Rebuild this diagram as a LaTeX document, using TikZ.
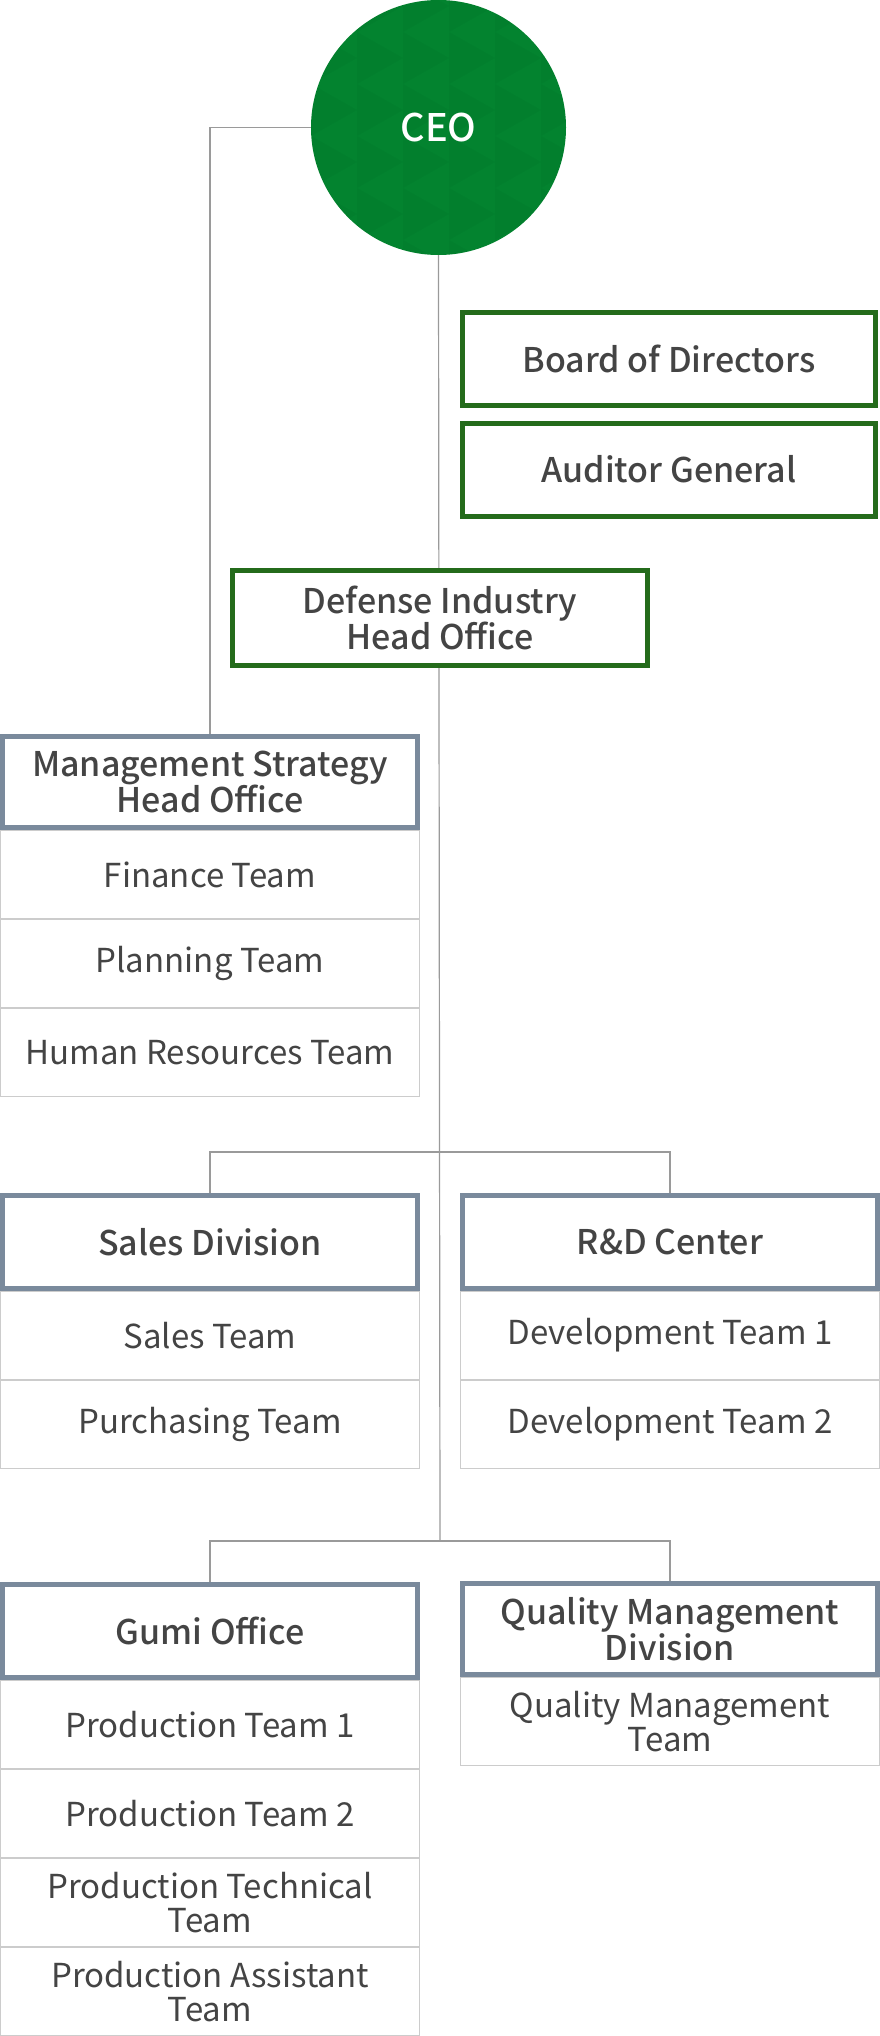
\documentclass[tikz,border=0pt]{standalone}
\usepackage{fontspec}
\setmainfont{Noto Sans CJK KR}
\newfontfamily\medfont{Noto Sans CJK KR Medium}
\usetikzlibrary{positioning}
\definecolor{ceogreen}{HTML}{03832F}
\definecolor{boardgreen}{HTML}{246B1B}
\definecolor{slate}{HTML}{7A8A9C}
\definecolor{rowline}{HTML}{CCCCCC}
\definecolor{wire}{HTML}{9A9A9A}
\definecolor{ink}{HTML}{444444}
\tikzset{
  ceonode/.style={circle,minimum size=255pt,inner sep=0pt,text=white,
                  font=\medfont\fontsize{38}{38}\selectfont},
  greenbox/.style={draw=boardgreen,line width=5pt,fill=white,align=center,
                   text=ink,inner sep=0pt,minimum width=413pt,minimum height=93pt,
                   font=\medfont\fontsize{34}{34}\selectfont},
  headbox/.style={draw=slate,line width=5pt,fill=white,align=center,
                  text=ink,inner sep=0pt,minimum width=415pt,minimum height=93pt,
                  font=\medfont\fontsize{34}{34}\selectfont},
  teamrow/.style={draw=rowline,line width=1pt,fill=white,align=center,
                  text=ink,inner sep=0pt,minimum width=419pt,minimum height=88pt,
                  font=\fontsize{33}{34}\selectfont},
  wire/.style={draw=wire,line width=1.2pt}
}

\begin{document}
\begin{tikzpicture}[x=1pt,y=-1pt,line join=miter]
  \useasboundingbox (0,0) rectangle (880,2036);
  \fill[white] (0,0) rectangle (880,2036);

  % CEO circle with faint triangle texture
  \fill[ceogreen] (438.5,127.5) circle (127.5);
  \begin{scope}
    \clip (438.5,127.5) circle (127.5);
    \foreach \i in {0,...,5}{
      \foreach \j in {0,...,5}{
        \fill[black,opacity=0.025]
          ({311+46*\i},{-20+52*\j}) -- ({357+46*\i},{6+52*\j}) -- ({311+46*\i},{32+52*\j}) -- cycle;
      }
    }
  \end{scope}
  \node[ceonode] (ceo) at (438.5,127.5) {CEO};

  % main spine
  \coordinate (branchA) at (440,1152);
  \coordinate (branchB) at (440,1541);
  \draw[wire] (ceo.south) -- (branchB);

  % board / auditor / defense
  \node[greenbox] (board) at (669,359) {Board of Directors};
  \node[greenbox] (auditor) at (669,469.5) {Auditor General};
  \node[greenbox,minimum width=415pt,minimum height=95pt] (defense) at (440,618)
    {Defense Industry\\Head Office};

  % management strategy
  \node[headbox,minimum height=91pt] (mgmt) at (210,782)
    {Management Strategy\\Head Office};
  \node[teamrow,below=0pt of mgmt] (fin) {Finance Team};
  \node[teamrow,below=0pt of fin] (plan) {Planning Team};
  \node[teamrow,below=0pt of plan] (hr) {Human Resources Team};
  \draw[wire] (ceo.west) -| (mgmt.north);

  % sales and R&D
  \node[headbox] (sales) at (210,1242) {Sales Division};
  \node[teamrow,below=0pt of sales] (salesteam) {Sales Team};
  \node[teamrow,below=0pt of salesteam] (purch) {Purchasing Team};
  \node[headbox] (rnd) at (670,1242) {R\&D Center};
  \node[teamrow,below=0pt of rnd] (dev1) {Development Team 1};
  \node[teamrow,below=0pt of dev1] (dev2) {Development Team 2};
  \draw[wire] (sales.north) |- (branchA) -| (rnd.north);

  % gumi and quality
  \node[headbox] (gumi) at (210,1631) {Gumi Office};
  \node[teamrow,below=0pt of gumi] (prod1) {Production Team 1};
  \node[teamrow,below=0pt of prod1] (prod2) {Production Team 2};
  \node[teamrow,below=0pt of prod2] (prodtech) {Production Technical\\Team};
  \node[teamrow,below=0pt of prodtech] (prodasst) {Production Assistant\\Team};
  \node[headbox,minimum height=91pt] (qm) at (670,1629)
    {Quality Management\\Division};
  \node[teamrow,below=0pt of qm] (qmteam) {Quality Management\\Team};
  \draw[wire] (gumi.north) |- (branchB) -| (qm.north);
\end{tikzpicture}
\end{document}
